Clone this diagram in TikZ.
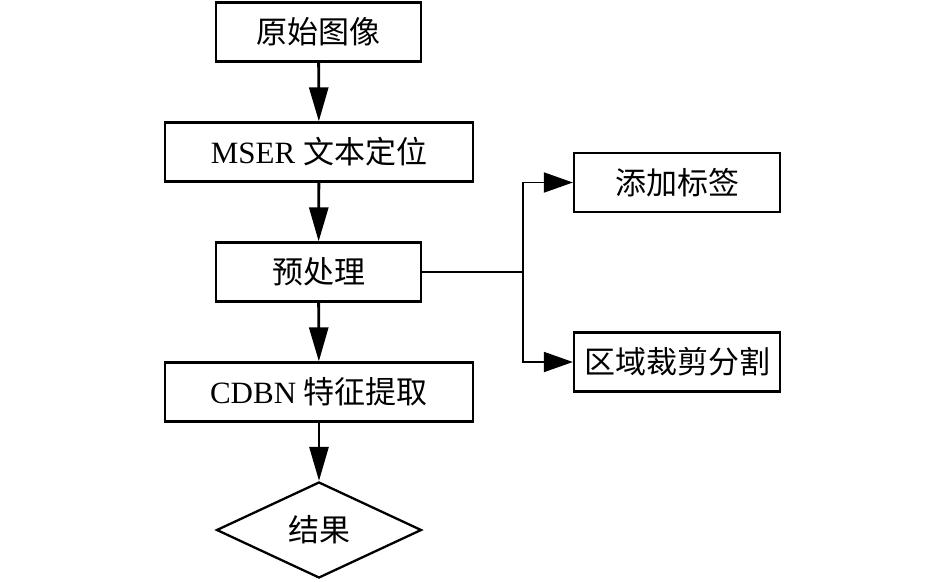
\documentclass[tikz,border=0pt]{standalone}
\usepackage{fontspec}
\setmainfont{Liberation Serif}
\newfontfamily\cjk{Noto Sans CJK SC}
\usetikzlibrary{shapes.geometric,arrows.meta}
\begin{document}
\begin{tikzpicture}[x=1pt,y=-1pt,
  box/.style={draw,line width=2.3pt,inner sep=0pt,minimum height=59pt,font=\fontsize{31}{36}\selectfont},
  dia/.style={draw,diamond,line width=2.3pt,inner sep=0pt,minimum width=205pt,minimum height=96pt,font=\fontsize{31}{36}\selectfont},
  varr/.style={line width=2.8pt,-{Triangle[length=34pt,width=19pt]}},
  harr/.style={line width=1.9pt,-{Triangle[length=29pt,width=20pt]}},
  link/.style={line width=1.9pt}]
\useasboundingbox (0,0) rectangle (945,581);
\node[box,minimum width=205pt] (b1) at (318.5,32) {\cjk 原始图像};
\node[box,minimum width=308pt] (b2) at (319,152) {MSER {\cjk 文本定位}};
\node[box,minimum width=205pt] (b3) at (318.5,272) {\cjk 预处理};
\node[box,minimum width=308pt] (b4) at (319,392) {CDBN {\cjk 特征提取}};
\node[dia] (d) at (319,530) {\cjk 结果};
\node[box,minimum width=206pt] (r1) at (677,182.5) {\cjk 添加标签};
\node[box,minimum width=206pt] (r2) at (677,362) {\cjk 区域裁剪分割};
\draw[varr] (b1) -- (b2);
\draw[varr] (b2) -- (b3);
\draw[varr] (b3) -- (b4);
\draw[varr] (b4) -- (d);
\coordinate (j) at (523,272);
\draw[link] (b3.east) -- (j);
\draw[harr] (j) |- (r1.west);
\draw[harr] (j) |- (r2.west);
\end{tikzpicture}
\end{document}
